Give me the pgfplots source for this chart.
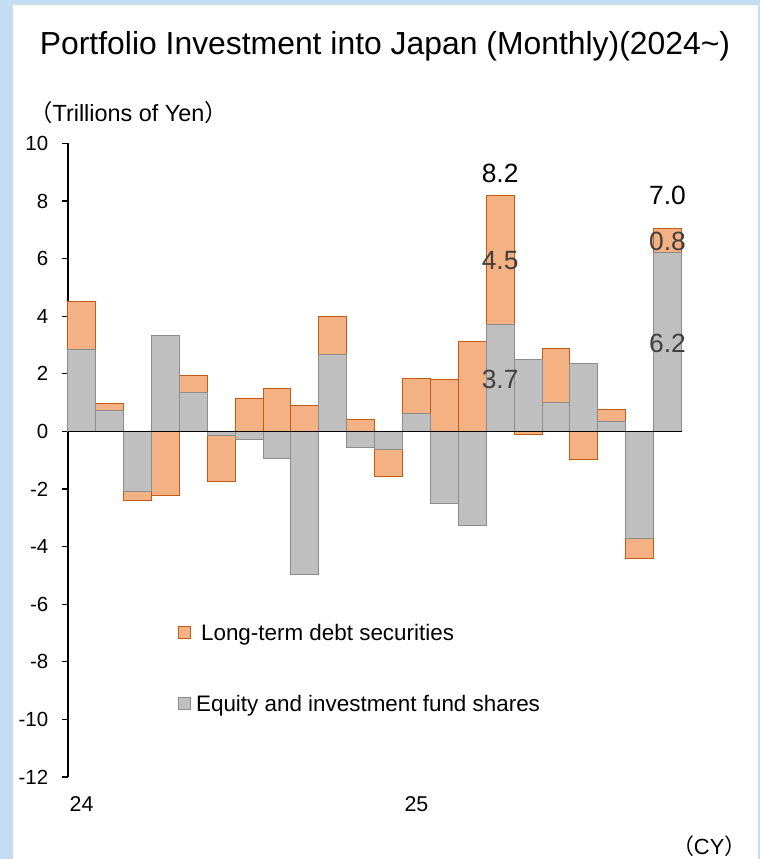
\documentclass[border=0pt]{standalone}
\usepackage{fontspec}
\setmainfont{Liberation Sans}
\newfontfamily\cjk{Noto Sans CJK JP}
\usepackage{pgfplots}
\usepackage{pgfplotstable}
\pgfplotsset{compat=1.18}

\definecolor{frameblue}{HTML}{C4DDF2}
\definecolor{debtfill}{HTML}{F4B183}
\definecolor{debtline}{HTML}{C55A11}
\definecolor{eqfill}{HTML}{BFBFBF}
\definecolor{eqline}{HTML}{8C8C8C}
\definecolor{lbl}{HTML}{404040}

% month index (0 = Jan 2024), equity and fund shares, long-term debt (trillion yen)
\pgfplotstableread{
m e d
0 2.86 1.64
1 0.71 0.25
2 -2.10 -0.29
3 3.34 -2.23
4 1.35 0.59
5 -0.14 -1.59
6 -0.29 1.16
7 -0.95 1.50
8 -4.96 0.89
9 2.68 1.30
10 -0.57 0.41
11 -0.62 -0.95
12 0.61 1.24
13 -2.49 1.82
14 -3.26 3.13
15 3.70 4.50
16 2.49 -0.12
17 1.01 1.88
18 2.35 -0.97
19 0.34 0.41
20 -3.71 -0.70
21 6.22 0.82
}\flows

\begin{document}
\begin{tikzpicture}[x=1bp,y=1bp]
\useasboundingbox (0,0) rectangle (760,859);
\fill[frameblue] (0,0) rectangle (760,859);
\fill[white] (12.7,0) rectangle (757.7,854);

\node[anchor=base, inner sep=0pt, font=\fontsize{32}{38}\selectfont] at (385,804)
  {Portfolio Investment into Japan (Monthly)(2024\textasciitilde)};
\node[anchor=base west, inner sep=0pt, font=\fontsize{23.5}{28}\selectfont] at (29,737.3)
  {{\cjk （}Trillions of Yen{\cjk ）}};
\node[anchor=base east, inner sep=0pt, font=\fontsize{22}{26}\selectfont] at (746.5,4)
  {{\cjk （}CY{\cjk ）}};

\begin{axis}[
    at={(67.7bp,82bp)}, anchor=south west,
    x=27.9bp, y=28.8bp,
    xmin=-0.5, xmax=21.5, ymin=-12, ymax=10,
    axis x line=bottom, axis y line=left,
    x axis line style={draw=none},
    y axis line style={-, line width=1.8bp, black},
    ytick={-12,-10,...,10},
    xtick={0,12}, xticklabels={24,25},
    xtick style={draw=none},
    ytick style={line width=1.2bp, black},
    tick align=outside,
    major tick length=6bp,
    ticklabel style={font=\fontsize{20.5}{24}\selectfont},
    xticklabel style={font=\fontsize{21.5}{25}\selectfont, yshift=-10bp},
    yticklabel style={xshift=-10bp},
    /pgf/number format/assume math mode=true,
    clip=false,
    legend style={at={(axis cs:3.453,-6.67)}, anchor=north west,
      draw=none, fill=none, inner sep=0pt,
      font=\fontsize{22.5}{27}\selectfont,
      nodes={inner sep=1bp, text height=16bp, text depth=4bp},
      row sep=49bp, column sep=4bp},
    legend cell align=left,
  ]
  \addplot[ybar, bar width=1, bar shift=0, fill=debtfill, draw=debtline, line width=0.9bp,
    legend image code/.code={\draw[fill=debtfill, draw=debtline, line width=0.9bp] (0bp,-4bp) rectangle (12bp,8bp);}]
    table[x=m, y expr={(\thisrow{e}*\thisrow{d}>0) ? (\thisrow{e}+\thisrow{d}) : \thisrow{d}}] {\flows};
  \addlegendentry{\hspace*{5bp}Long-term debt securities}
  \addplot[ybar, bar width=1, bar shift=0, fill=eqfill, draw=eqline, line width=0.9bp,
    legend image code/.code={\draw[fill=eqfill, draw=eqline, line width=0.9bp] (0bp,-4bp) rectangle (12bp,8bp);}]
    table[x=m, y=e] {\flows};
  \addlegendentry{Equity and investment fund shares}

  \draw[black, line width=1.5bp] (axis cs:-0.5,0) -- (axis cs:21.5,0);

  \node[font=\fontsize{26.5}{30}\selectfont] at (axis cs:15,8.96) {8.2};
  \node[font=\fontsize{26.5}{30}\selectfont] at (axis cs:21,8.20) {7.0};
  \node[lbl, font=\fontsize{26.5}{30}\selectfont] at (axis cs:15,5.94) {4.5};
  \node[lbl, font=\fontsize{26.5}{30}\selectfont] at (axis cs:15,1.81) {3.7};
  \node[lbl, font=\fontsize{26.5}{30}\selectfont] at (axis cs:21,6.59) {0.8};
  \node[lbl, font=\fontsize{26.5}{30}\selectfont] at (axis cs:21,3.06) {6.2};
\end{axis}
\end{tikzpicture}
\end{document}
